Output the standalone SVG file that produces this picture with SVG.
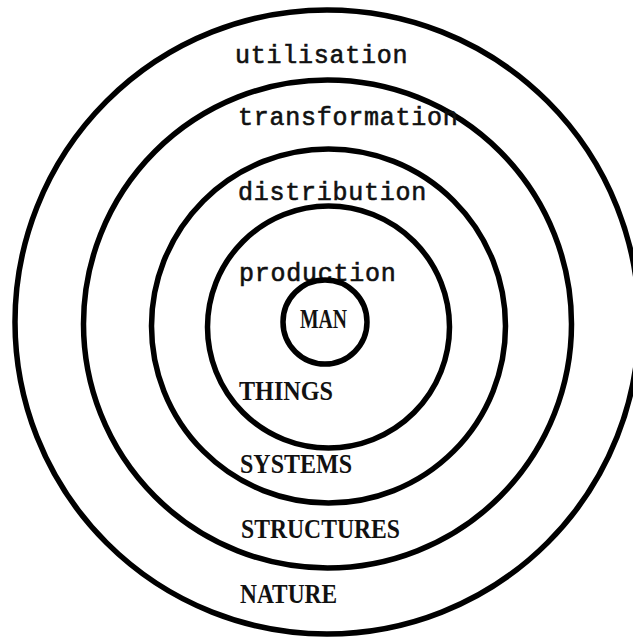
<svg xmlns="http://www.w3.org/2000/svg" width="633" height="637" viewBox="0 0 633 637">
<style>
.ring{fill:none;stroke:#000;stroke-width:5.5}
.lc{font-family:"Liberation Mono","DejaVu Sans Mono",monospace;font-size:25px;letter-spacing:0.75px;fill:#111;stroke:#111;stroke-width:0.6}
.uc{font-family:"Liberation Serif","DejaVu Serif",serif;font-size:27px;fill:#111;font-weight:bold}
</style>
<rect width="633" height="637" fill="#fff"/>
<g id="nature">
<circle class="ring" cx="327" cy="322" r="312"/>
<text class="lc" x="235" y="63">utilisation</text>
<text class="uc" x="240" y="603" textLength="97" lengthAdjust="spacingAndGlyphs">NATURE</text>
</g>
<g id="structures">
<circle class="ring" cx="327.5" cy="324" r="244"/>
<text class="lc" x="238" y="125">transformation</text>
<text class="uc" x="241" y="538" textLength="159" lengthAdjust="spacingAndGlyphs">STRUCTURES</text>
</g>
<g id="systems">
<circle class="ring" cx="328.5" cy="326" r="177"/>
<text class="lc" x="238" y="200">distribution</text>
<text class="uc" x="240" y="473" textLength="112" lengthAdjust="spacingAndGlyphs">SYSTEMS</text>
</g>
<g id="things">
<circle class="ring" cx="328.5" cy="327" r="121"/>
<text class="lc" x="239" y="281">production</text>
<text class="uc" x="239" y="400" textLength="94" lengthAdjust="spacingAndGlyphs">THINGS</text>
</g>
<g id="man">
<circle class="ring" cx="325" cy="322" r="42"/>
<text class="uc" x="300" y="328" font-size="29" textLength="47" lengthAdjust="spacingAndGlyphs">MAN</text>
</g>
<g id="connectors"></g>
</svg>
